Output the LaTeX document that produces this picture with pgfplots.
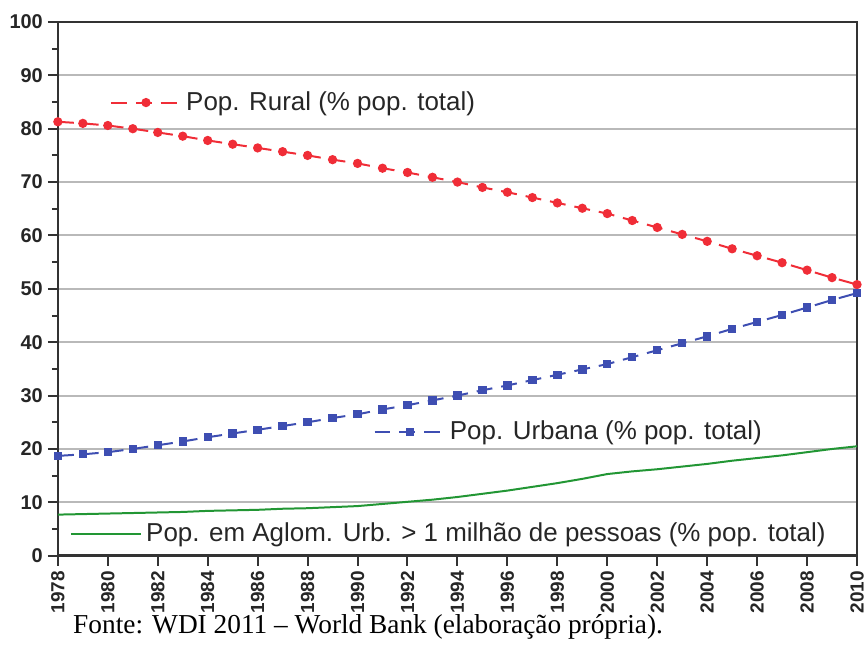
\documentclass[border=0pt]{standalone}
\usepackage{pgfplots}
\pgfplotsset{compat=1.18}
\usepackage{fontspec}
\setmainfont{Liberation Sans}
\newfontfamily\serifcap{Liberation Serif}

\definecolor{rural}{RGB}{240,45,55}
\definecolor{urbana}{RGB}{62,78,178}
\definecolor{aglom}{RGB}{34,150,52}

\pgfplotstableread{
ano rural urbana aglom
1978 81.3 18.7 7.7
1979 81.0 19.0 7.8
1980 80.6 19.4 7.9
1981 80.0 20.0 8.0
1982 79.3 20.7 8.1
1983 78.6 21.4 8.2
1984 77.8 22.2 8.4
1985 77.1 22.9 8.5
1986 76.4 23.6 8.6
1987 75.7 24.3 8.8
1988 75.0 25.0 8.9
1989 74.2 25.8 9.1
1990 73.5 26.5 9.3
1991 72.6 27.4 9.7
1992 71.8 28.2 10.1
1993 70.9 29.1 10.5
1994 70.0 30.0 11.0
1995 69.0 31.0 11.6
1996 68.1 31.9 12.2
1997 67.1 32.9 12.9
1998 66.1 33.9 13.6
1999 65.1 34.9 14.4
2000 64.1 35.9 15.3
2001 62.8 37.2 15.8
2002 61.5 38.5 16.2
2003 60.2 39.8 16.7
2004 58.9 41.1 17.2
2005 57.5 42.5 17.8
2006 56.2 43.8 18.3
2007 54.9 45.1 18.8
2008 53.5 46.5 19.4
2009 52.1 47.9 20.0
2010 50.8 49.2 20.5
}\dados

\pgfplotsset{
  base/.style={
    scale only axis,
    width=400.5pt, height=267.5pt,
    xmin=1978, xmax=2010, ymin=0, ymax=100,
    legend cell align=left,
    legend style={draw=none, fill=none, font=\fontsize{13}{15}\selectfont, text=black!85,
      inner sep=0pt, outer sep=0pt},
    legend image code/.code={
      \draw[mark repeat=2,mark phase=2] plot coordinates {(0cm,0cm)(0.62cm,0cm)(1.24cm,0cm)};
    },
  },
}

\begin{document}
\begin{tikzpicture}
\useasboundingbox (-29pt,-46.5pt) rectangle (405pt,278.5pt);

\begin{axis}[
  base,
  axis line style={line width=1.3pt, black!80},
  ymajorgrids,
  grid style={gray!55, line width=1pt},
  xtick={1978,1980,...,2010},
  ytick={0,10,...,100},
  minor x tick num=1,
  minor y tick num=1,
  tick pos=left,
  tick align=outside,
  major tick length=5pt,
  minor tick length=3pt,
  tick style={line width=1pt, black!80},
  /pgf/number format/assume math mode=true,
  /pgf/number format/1000 sep={},
  yticklabel style={font=\bfseries\fontsize{10}{10}\selectfont, text=black!85, xshift=1pt},
  xticklabel style={font=\bfseries\fontsize{9.5}{10}\selectfont, text=black!85,
    rotate=90, anchor=east, inner sep=2.5pt},
  legend style={at={(0.065,0.849)}, anchor=west},
]
\addplot[rural, line width=1pt, dash pattern=on 8pt off 4.5pt,
  mark=*, mark size=1.8pt, mark options={solid}] table[x=ano, y=rural] {\dados};
\addlegendentry{Pop. Rural (\% pop. total)}
\end{axis}

\begin{axis}[
  base, hide axis,
  legend style={at={(0.395,0.232)}, anchor=west},
]
\addplot[urbana, line width=1pt, dash pattern=on 8pt off 4.5pt,
  mark=square*, mark size=1.6pt, mark options={solid}] table[x=ano, y=urbana] {\dados};
\addlegendentry{Pop. Urbana (\% pop. total)}
\end{axis}

\begin{axis}[
  base, hide axis,
  legend style={at={(0.015,0.041)}, anchor=west},
]
\addplot[aglom, line width=1pt] table[x=ano, y=aglom] {\dados};
\addlegendentry{Pop. em Aglom. Urb. > 1 milhão de pessoas (\% pop. total)}
\end{axis}

\node[anchor=base west, font=\serifcap\fontsize{13.7}{15}\selectfont, inner sep=0pt]
  at (7.5pt,-39pt) {Fonte: WDI 2011 – World Bank (elaboração própria).};
\end{tikzpicture}
\end{document}
